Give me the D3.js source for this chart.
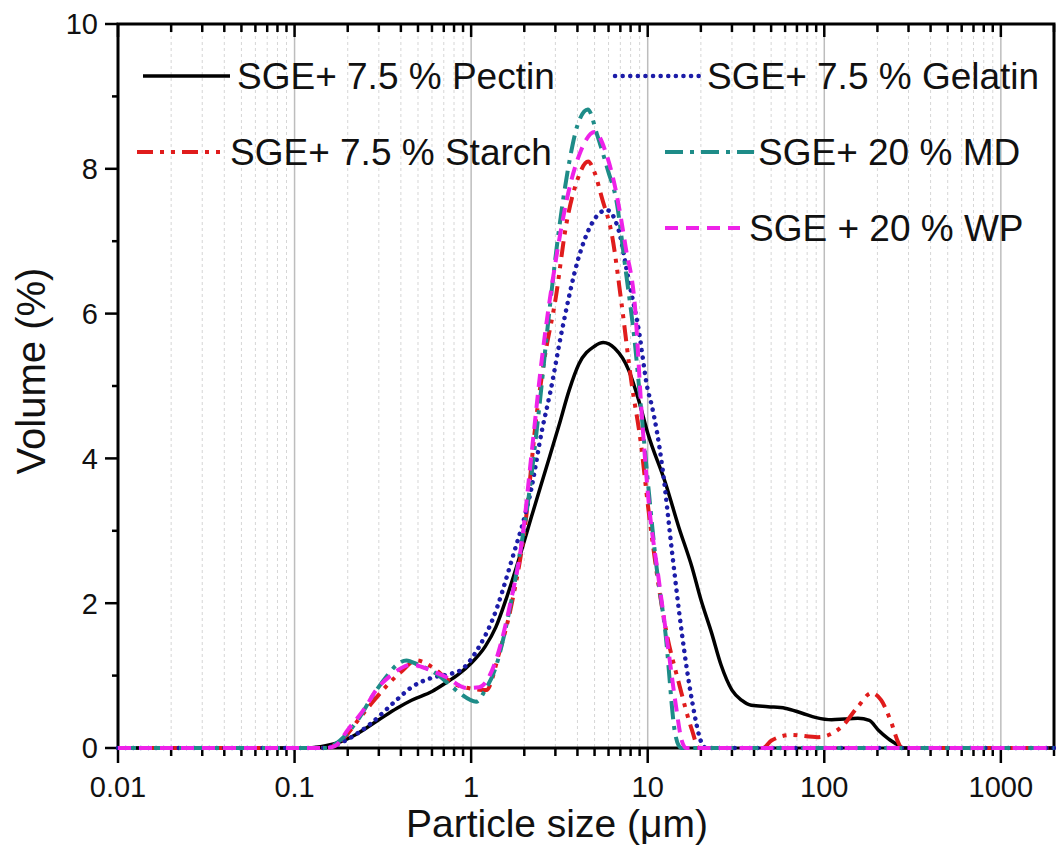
<!DOCTYPE html>
<html>
<head>
<meta charset="utf-8">
<script src="https://cdn.jsdelivr.net/npm/d3@7"></script>
<style>
body { margin: 0; background: #fff; }
text { font-family: 'Liberation Sans', Arial, sans-serif; fill: #111; }
</style>
</head>
<body>
<svg id="chart" width="1059" height="859"></svg>
<script>
// particle size (um) / volume (%)
const pectinSize = [0.01, 0.12, 0.15, 0.18, 0.22, 0.3, 0.38, 0.46, 0.6, 0.72, 0.85, 1, 1.2, 1.38, 1.6, 1.86, 2.2, 2.64, 3.14, 3.6, 4.07, 5, 5.6, 6.5, 7.8, 8.9, 10, 12.6, 15, 17.8, 20, 23, 26, 30, 34, 38.6, 48, 60, 75, 90, 110, 130, 155, 180, 202, 230, 262, 280, 2000]
const pectinVol = [0, 0, 0.03, 0.08, 0.18, 0.39, 0.55, 0.66, 0.78, 0.9, 1.02, 1.17, 1.4, 1.67, 2.1, 2.6, 3.2, 3.84, 4.45, 4.95, 5.3, 5.55, 5.6, 5.52, 5.22, 4.8, 4.35, 3.66, 3.05, 2.5, 2.05, 1.59, 1.15, 0.8, 0.66, 0.59, 0.57, 0.55, 0.48, 0.42, 0.39, 0.4, 0.41, 0.38, 0.25, 0.13, 0.04, 0, 0]

const gelatinSize = [0.01, 0.15, 0.17, 0.2, 0.265, 0.377, 0.46, 0.6, 0.78, 0.88, 1.11, 1.32, 1.7, 2.2, 2.52, 2.8, 3.27, 4.07, 4.84, 5.86, 6.85, 7.8, 8.9, 10, 10.5, 12.1, 13.7, 15.6, 17.8, 20.2, 21.5, 2000]
const gelatinVol = [0, 0, 0.04, 0.12, 0.32, 0.66, 0.84, 0.97, 1.03, 1.08, 1.4, 1.77, 2.6, 3.6, 4.39, 4.9, 5.77, 6.78, 7.25, 7.43, 7.15, 6.46, 5.77, 4.95, 4.75, 3.88, 2.73, 1.59, 0.66, 0.07, 0, 0]

const starchSize = [0.01, 0.15, 0.18, 0.23, 0.28, 0.33, 0.4, 0.49, 0.6, 0.78, 1.0, 1.22, 1.44, 1.7, 2.04, 2.33, 2.58, 3.02, 3.44, 4.0, 4.6, 5.0, 5.5, 6.3, 7.1, 8.1, 9.1, 10.1, 12.6, 15, 17.8, 19.5, 45, 50, 65, 92, 125, 155, 185, 210, 239, 262, 275, 2000]
const starchVol = [0, 0, 0.08, 0.39, 0.65, 0.85, 1.05, 1.21, 1.12, 0.9, 0.82, 0.8, 1.31, 2.0, 3.15, 4.53, 5.32, 6.23, 7.2, 7.85, 8.1, 7.95, 7.6, 7.06, 6.15, 5.04, 4.25, 3.29, 1.67, 0.9, 0.25, 0, 0, 0.1, 0.18, 0.15, 0.29, 0.57, 0.76, 0.66, 0.36, 0.08, 0, 0]

const mdSize = [0.01, 0.15, 0.18, 0.23, 0.275, 0.33, 0.38, 0.43, 0.5, 0.63, 0.75, 0.86, 1.07, 1.2, 1.38, 1.6, 1.86, 2.1, 2.41, 2.75, 3.14, 3.6, 4.0, 4.58, 5.2, 6.0, 6.6, 7.5, 8.5, 9.0, 10, 11.1, 12.6, 14.3, 15, 15.5, 2000]
const mdVol = [0, 0, 0.1, 0.4, 0.71, 0.98, 1.15, 1.21, 1.15, 1.03, 0.88, 0.76, 0.64, 0.8, 1.12, 1.75, 2.6, 3.4, 4.62, 5.95, 7.15, 8.1, 8.6, 8.82, 8.45, 7.95, 7.6, 6.6, 5.54, 4.9, 3.7, 2.6, 1.59, 0.2, 0.03, 0, 0]

const wpSize = [0.01, 0.15, 0.17, 0.2, 0.25, 0.29, 0.35, 0.46, 0.58, 0.72, 0.94, 1.11, 1.38, 1.65, 1.95, 2.2, 2.5, 3.0, 3.5, 4.2, 5.0, 5.8, 6.6, 7.5, 8.5, 9.2, 10.1, 11.5, 13.1, 14.3, 15.6, 16.5, 2000]
const wpVol = [0, 0, 0.03, 0.25, 0.55, 0.8, 1.0, 1.15, 1.08, 0.98, 0.83, 0.84, 1.21, 1.95, 2.9, 4.07, 5.32, 6.7, 7.6, 8.26, 8.51, 8.22, 7.7, 6.92, 6.05, 4.7, 3.43, 2.36, 1.35, 0.66, 0.1, 0, 0]

const xTickValues = [0.01, 0.1, 1, 10, 100, 1000]
const yTickValues = [0, 2, 4, 6, 8, 10]
const yMinorValues = [1, 3, 5, 7, 9]

const margin = {top: 24, right: 5, bottom: 111, left: 118}
const W = 1059, H = 859

const svg = d3.select('#chart')

const x = d3.scaleLog().domain([0.01, 2000]).range([margin.left, W - margin.right])
const y = d3.scaleLinear().domain([0, 10]).range([H - margin.bottom, margin.top])

const x0 = x.range()[0], x1 = x.range()[1]
const yTop = y(10), yBot = y(0)

const isMajor = v => Math.abs(Math.log10(v) - Math.round(Math.log10(v))) < 1e-9
const minorX = x.ticks().filter(v => !isMajor(v))

// grid
svg.append('g').selectAll('line')
    .data(minorX)
    .enter()
    .append('line')
    .attr('x1', d => x(d)).attr('x2', d => x(d))
    .attr('y1', yTop).attr('y2', yBot)
    .attr('stroke', '#d6d6d6')
    .attr('stroke-width', 1)
    .attr('stroke-dasharray', '3,3')

svg.append('g').selectAll('line')
    .data(xTickValues.slice(1))
    .enter()
    .append('line')
    .attr('x1', d => x(d)).attr('x2', d => x(d))
    .attr('y1', yTop).attr('y2', yBot)
    .attr('stroke', '#bdbdbd')
    .attr('stroke-width', 1.5)

// ticks
const ticks = svg.append('g').attr('stroke', '#000')
ticks.selectAll('.xmaj')
    .data(xTickValues)
    .enter()
    .append('line')
    .attr('x1', d => x(d)).attr('x2', d => x(d))
    .attr('y1', yBot).attr('y2', yBot + 15)
    .attr('stroke-width', 2.5)
ticks.selectAll('.xmin')
    .data(minorX)
    .enter()
    .append('line')
    .attr('x1', d => x(d)).attr('x2', d => x(d))
    .attr('y1', yBot).attr('y2', yBot + 8)
    .attr('stroke-width', 2.5)
ticks.selectAll('.tmaj')
    .data(xTickValues)
    .enter()
    .append('line')
    .attr('x1', d => x(d)).attr('x2', d => x(d))
    .attr('y1', yTop).attr('y2', yTop + 13)
    .attr('stroke-width', 2.5)
ticks.selectAll('.tmin')
    .data(minorX)
    .enter()
    .append('line')
    .attr('x1', d => x(d)).attr('x2', d => x(d))
    .attr('y1', yTop).attr('y2', yTop + 8)
    .attr('stroke-width', 2.5)
ticks.selectAll('.ymaj')
    .data(yTickValues)
    .enter()
    .append('line')
    .attr('x1', x0 - 13).attr('x2', x0)
    .attr('y1', d => y(d)).attr('y2', d => y(d))
    .attr('stroke-width', 2.5)
ticks.selectAll('.ymin')
    .data(yMinorValues)
    .enter()
    .append('line')
    .attr('x1', x0 - 6).attr('x2', x0)
    .attr('y1', d => y(d)).attr('y2', d => y(d))
    .attr('stroke-width', 2.5)

// frame
svg.append('rect')
    .attr('x', x0).attr('y', yTop)
    .attr('width', x1 - x0).attr('height', yBot - yTop)
    .attr('fill', 'none')
    .attr('stroke', '#000')
    .attr('stroke-width', 3)

// tick labels
svg.append('g').selectAll('text')
    .data(xTickValues)
    .enter()
    .append('text')
    .attr('x', d => x(d))
    .attr('y', yBot + 49)
    .attr('text-anchor', 'middle')
    .attr('font-size', 29)
    .text(d => d)

svg.append('g').selectAll('text')
    .data(yTickValues)
    .enter()
    .append('text')
    .attr('x', x0 - 20)
    .attr('y', d => y(d))
    .attr('dy', '0.36em')
    .attr('text-anchor', 'end')
    .attr('font-size', 29)
    .text(d => d)

// axis titles
svg.append('text')
    .attr('x', 557)
    .attr('y', 837)
    .attr('text-anchor', 'middle')
    .attr('font-size', 39)
    .text('Particle size (\u03bcm)')

svg.append('text')
    .attr('transform', 'translate(45, 371) rotate(-90)')
    .attr('text-anchor', 'middle')
    .attr('font-size', 40)
    .text('Volume (%)')

// series
const series = [
    {name: 'SGE+ 7.5 % Pectin', size: pectinSize, vol: pectinVol, color: '#000000', width: 3.5, dash: null, cap: 'butt'},
    {name: 'SGE+ 7.5 % Starch', size: starchSize, vol: starchVol, color: '#e01c1c', width: 4, dash: '16,7,4,7,4,7', cap: 'butt'},
    {name: 'SGE+ 7.5 % Gelatin', size: gelatinSize, vol: gelatinVol, color: '#1c1ca8', width: 4.5, dash: '0.1,7.5', cap: 'round'},
    {name: 'SGE+ 20 % MD', size: mdSize, vol: mdVol, color: '#1e8c88', width: 4, dash: '18,7,4,7', cap: 'butt'},
    {name: 'SGE + 20 % WP', size: wpSize, vol: wpVol, color: '#ee22e8', width: 4, dash: '13,8', cap: 'butt'}
]

const line = d3.line()
    .x(d => x(d[0]))
    .y(d => y(d[1]))
    .curve(d3.curveMonotoneX)

svg.append('g').selectAll('path')
    .data(series)
    .enter()
    .append('path')
    .attr('d', s => line(s.size.map((v, i) => [v, s.vol[i]])))
    .attr('fill', 'none')
    .attr('stroke', s => s.color)
    .attr('stroke-width', s => s.width)
    .attr('stroke-dasharray', s => s.dash)
    .attr('stroke-linecap', s => s.cap)

// legend
const legendPos = [
    {lx1: 143, lx2: 230, tx: 237, y: 76},
    {lx1: 137, lx2: 225, tx: 230, y: 152},
    {lx1: 615, lx2: 702, tx: 707, y: 76},
    {lx1: 665, lx2: 754, tx: 758, y: 152},
    {lx1: 665, lx2: 740, tx: 749, y: 228}
]

const legend = svg.append('g')
series.forEach((s, i) => {
    const p = legendPos[i]
    legend.append('line')
        .attr('x1', p.lx1).attr('x2', p.lx2)
        .attr('y1', p.y).attr('y2', p.y)
        .attr('stroke', s.color)
        .attr('stroke-width', s.width)
        .attr('stroke-dasharray', s.dash)
        .attr('stroke-linecap', s.cap)
    legend.append('text')
        .attr('x', p.tx)
        .attr('y', p.y)
        .attr('dy', '0.36em')
        .attr('font-size', 37)
        .text(s.name)
})
</script>
</body>
</html>
